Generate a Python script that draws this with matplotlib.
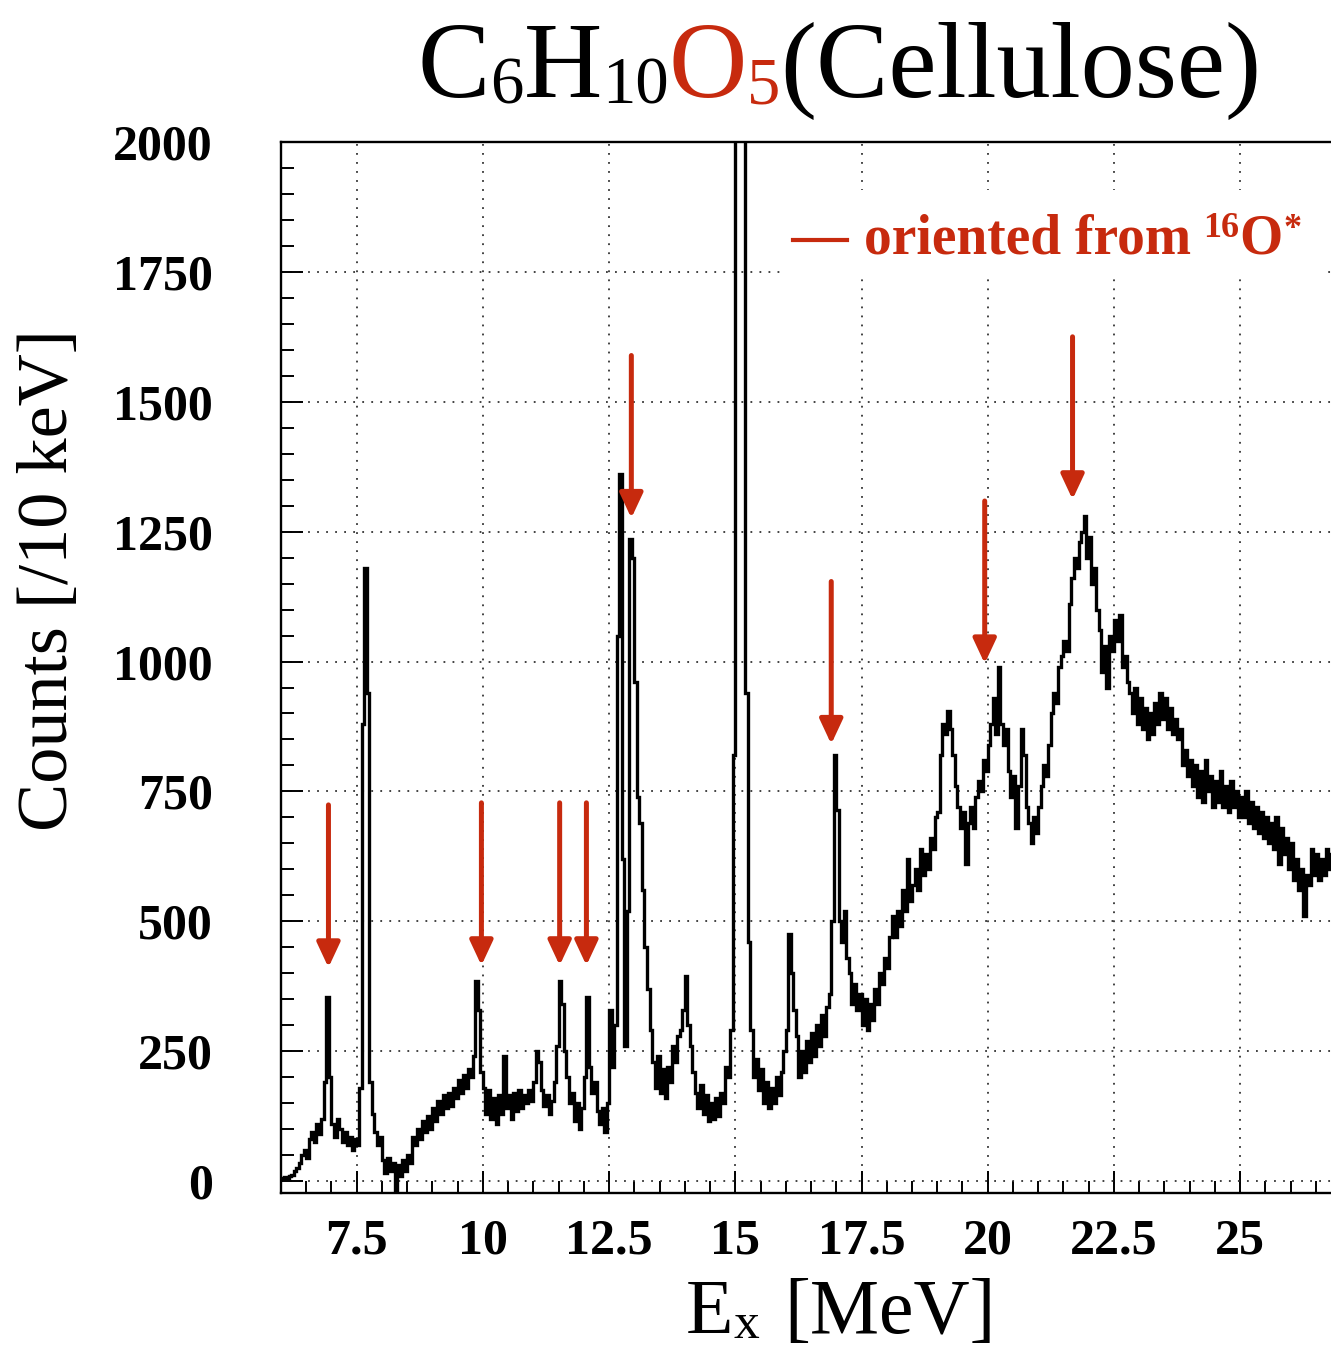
import numpy as np
import matplotlib
matplotlib.use("Agg")
import matplotlib.pyplot as plt
from matplotlib.ticker import MultipleLocator
from matplotlib.patches import Rectangle
from matplotlib.lines import Line2D

W, H, DPI = 1331, 1354, 100

# Excitation-energy spectrum, counts per bin starting at 6.00 MeV, 50 keV steps
e_start = 6.0
bin_width = 0.05
counts = [
    5, 8, 5, 10, 12, 20, 25, 35, 50, 60, 45, 80, 95, 75, 110, 90, 120, 190, 355, 200,            # 6 MeV
    110, 85, 120, 100, 75, 95, 70, 85, 60, 80, 70, 180, 880, 1180, 940, 190, 130, 95, 70, 85,     # 7
    40, 15, 45, 20, 35, -25, 30, 10, 40, 20, 50, 35, 85, 70, 100, 80, 115, 95, 125, 100,          # 8
    140, 115, 155, 130, 165, 140, 170, 145, 180, 160, 195, 170, 205, 180, 215, 200, 240, 385, 330, 210,  # 9
    180, 130, 175, 120, 160, 110, 165, 130, 240, 140, 165, 120, 170, 135, 175, 140, 165, 150, 175, 155,  # 10
    190, 250, 230, 175, 145, 165, 130, 155, 190, 260, 385, 340, 250, 200, 150, 170, 115, 150, 100, 140,  # 11
    200, 355, 220, 170, 190, 135, 110, 140, 95, 150, 330, 220, 300, 1050, 1360, 620, 260, 520, 1235, 1200,  # 12
    960, 740, 690, 560, 450, 370, 290, 230, 180, 240, 170, 215, 160, 220, 190, 260, 230, 280, 290, 330,  # 13
    395, 300, 260, 210, 170, 140, 185, 130, 165, 115, 150, 120, 160, 125, 170, 150, 220, 200, 290, 820,  # 14
    2500, 3200, 3000, 2300, 940, 460, 290, 200, 235, 175, 215, 150, 190, 140, 180, 150, 200, 165, 210, 250,  # 15
    290, 475, 400, 330, 280, 200, 250, 210, 270, 230, 285, 240, 300, 260, 320, 280, 335, 360, 500, 820,  # 16
    715, 500, 460, 520, 430, 400, 340, 380, 330, 360, 300, 350, 290, 340, 310, 370, 340, 400, 380, 430,  # 17
    410, 470, 510, 470, 520, 490, 560, 520, 620, 540, 570, 600, 560, 640, 590, 630, 600, 660, 640, 700,  # 18
    710, 820, 880, 860, 905, 870, 820, 760, 720, 680, 710, 610, 690, 720, 680, 740, 770, 750, 810, 790,  # 19
    840, 880, 930, 860, 990, 880, 840, 870, 790, 740, 780, 680, 760, 870, 820, 720, 690, 650, 700, 670,  # 20
    720, 760, 800, 780, 840, 900, 940, 920, 990, 1010, 1040, 1020, 1110, 1160, 1200, 1180, 1230, 1250, 1280, 1200,  # 21
    1240, 1150, 1180, 1100, 1060, 980, 1030, 950, 1050, 1020, 1080, 1040, 1090, 990, 1010, 960, 940, 900, 950, 880,  # 22
    930, 870, 910, 850, 900, 860, 920, 880, 940, 890, 930, 870, 910, 860, 890, 850, 870, 800, 830, 780,  # 23
    810, 760, 800, 740, 790, 730, 810, 750, 780, 720, 770, 730, 790, 720, 760, 710, 770, 720, 750, 700,  # 24
    740, 700, 750, 690, 730, 680, 720, 670, 710, 660, 700, 650, 690, 640, 700, 610, 680, 630, 660, 600,  # 25
    650, 580, 620, 560, 600, 510, 590, 570, 640, 590, 630, 580, 620, 590, 640, 600, 630, 610,  # 26
]

# States attributed to 16O* (arrow energy in MeV, arrow tip in counts)
arrow_energy = [6.94, 9.97, 11.52, 12.05, 12.94, 16.90, 19.94, 21.68]
arrow_tip = [411, 415, 415, 415, 1276, 841, 996, 1312]
arrow_length = 313

x_ticks = [7.5, 10, 12.5, 15, 17.5, 20, 22.5, 25]
x_tick_labels = ["7.5", "10", "12.5", "15", "17.5", "20", "22.5", "25"]
y_ticks = [0, 250, 500, 750, 1000, 1250, 1500, 1750, 2000]
y_tick_labels = ["0", "250", "500", "750", "1000", "1250", "1500", "1750", "2000"]

RED = "#C72A0E"
SERIF = "Liberation Serif"

fig = plt.figure(figsize=(W / DPI, H / DPI), dpi=DPI)
ax = fig.add_axes([281 / W, (H - 1193) / H, 1050 / W, 1051 / H])

edges = e_start + bin_width * np.arange(len(counts) + 1)
ax.stairs(counts, edges, color="black", lw=2.4, baseline=None, zorder=3)

ax.set_xlim(6.0, 26.8)
ax.set_ylim(-23, 2000)

ax.set_xticks(x_ticks, x_tick_labels)
ax.xaxis.set_minor_locator(MultipleLocator(0.5))
ax.set_yticks(y_ticks, y_tick_labels)
ax.yaxis.set_minor_locator(MultipleLocator(50))
ax.grid(True, which="major", color="#333333", lw=1.3, linestyle=(0, (1, 4.0)), zorder=1)
ax.set_axisbelow(True)

ax.tick_params(which="both", direction="in", top=False, right=False, width=1.4)
ax.tick_params(which="major", length=16)
ax.tick_params(which="minor", length=9)
ax.tick_params(axis="y", pad=49)
ax.tick_params(axis="x", pad=18)
for lbl in ax.get_xticklabels() + ax.get_yticklabels():
    lbl.set_fontfamily(SERIF)
    lbl.set_fontweight("bold")
    lbl.set_fontsize(36)

for side in ("left", "bottom", "top"):
    ax.spines[side].set_linewidth(1.7)
ax.spines["right"].set_visible(False)

# Downward arrows marking the 16O* states
for e, tip in zip(arrow_energy, arrow_tip):
    ax.annotate(
        "", xy=(e, tip), xytext=(e, tip + arrow_length),
        arrowprops=dict(arrowstyle="-|>,head_length=15,head_width=7", mutation_scale=1,
                        color=RED, lw=3.6, shrinkA=0, shrinkB=0),
        zorder=4,
    )

renderer = fig.canvas.get_renderer()


def draw_runs(x0, base_y, runs):
    """Place a sequence of text pieces left to right, pixel coords from top-left."""
    x = x0
    for text, size, color, weight, dy, gap in runs:
        x += gap
        t = fig.text(x / W, 1 - (base_y + dy) / H, text, fontsize=size, color=color,
                     fontweight=weight, family=SERIF, ha="left", va="baseline")
        x += t.get_window_extent(renderer).width


# Title
draw_runs(418, 97, [
    ("C", 78, "black", "normal", 0, 0),
    ("6", 48, "black", "normal", 6, 0),
    ("H", 78, "black", "normal", 0, 0),
    ("10", 48, "black", "normal", 6, 0),
    ("O", 78, RED, "normal", 0, 0),
    ("5", 48, RED, "normal", 6, 0),
    ("(Cellulose)", 78, "black", "normal", 0, 0),
])

# Legend box
fig.patches.append(Rectangle((780, H - 277), 545, 87, transform=None,
                             facecolor="white", edgecolor="none", zorder=2))
fig.lines.append(Line2D([793 / W, 847 / W], [1 - 240 / H, 1 - 240 / H],
                        transform=fig.transFigure, color=RED, lw=3.0, zorder=3))
draw_runs(864, 254, [
    ("oriented from", 40, RED, "bold", 0, 0),
    ("16", 26, RED, "bold", -17, 12),
    ("O", 40, RED, "bold", 0, 0),
    ("*", 26, RED, "bold", -16, 1),
])

# Axis titles
fig.text(50 / W, 1 - 580 / H, "Counts [/10 keV]", rotation=90, ha="center", va="center",
         fontsize=52, family=SERIF)
draw_runs(686, 1333, [
    ("E", 56, "black", "normal", 0, 0),
    ("x", 37, "black", "normal", 5, 0),
    ("[MeV]", 56, "black", "normal", 0, 25),
])

fig.savefig("out.png", dpi=DPI)
